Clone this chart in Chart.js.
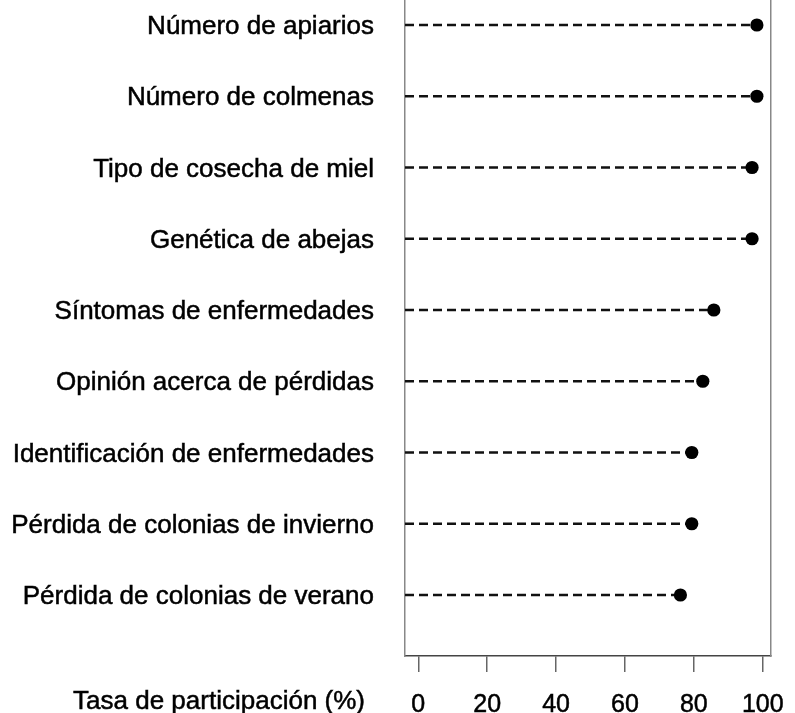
<!DOCTYPE html>
<html><head><meta charset="utf-8">
<script src="https://cdn.jsdelivr.net/npm/chart.js@4/dist/chart.umd.min.js"></script>
<style>html,body{margin:0;padding:0;background:#fff}#wrap{width:795px;height:713px;position:relative}</style>
</head><body><div id="wrap"><canvas id="c" width="795" height="713"></canvas></div>
<script>
const categories = [
  "Número de apiarios",
  "Número de colmenas",
  "Tipo de cosecha de miel",
  "Genética de abejas",
  "Síntomas de enfermedades",
  "Opinión acerca de pérdidas",
  "Identificación de enfermedades",
  "Pérdida de colonias de invierno",
  "Pérdida de colonias de verano"
];
const values = [98.3, 98.3, 96.9, 96.9, 85.8, 82.6, 79.4, 79.4, 76.1];
const xTicks = [0, 20, 40, 60, 80, 100];
const xTitle = "Tasa de participación (%)";

const X_MIN = -3.86, X_MAX = 102.4;
const Y_MIN = -0.351, Y_MAX = 8.856;
const FONT = "'Liberation Sans', Arial, Helvetica, sans-serif";

const dotData = values.map((v, i) => ({x: v, y: i}));
const lineSets = values.map((v, i) => ({
  type: 'line',
  data: [{x: X_MIN, y: i}, {x: v, y: i}],
  borderColor: '#111',
  borderWidth: 2.3,
  borderDash: [9, 5],
  pointRadius: 0,
  fill: false,
  order: 2
}));

const titlePlugin = {
  id: 'bottomTitle',
  afterDraw(chart) {
    const ctx = chart.ctx;
    const xs = chart.scales.x;
    ctx.save();
    ctx.font = "26px " + FONT;
    ctx.fillStyle = '#000';
    ctx.strokeStyle = '#000';
    ctx.lineWidth = 0.5;
    ctx.textAlign = 'right';
    ctx.textBaseline = 'alphabetic';
    const x = chart.chartArea.left - 40, y = xs.bottom - 4;
    ctx.strokeText(xTitle, x, y);
    ctx.fillText(xTitle, x, y);
    ctx.restore();
  }
};

new Chart(document.getElementById('c'), {
  type: 'scatter',
  data: {
    datasets: [
      {
        type: 'scatter',
        data: dotData,
        pointRadius: 6.6,
        pointHoverRadius: 6.6,
        backgroundColor: '#000',
        borderWidth: 0,
        order: 1
      },
      ...lineSets
    ]
  },
  options: {
    responsive: false,
    animation: false,
    devicePixelRatio: 1,
    layout: {padding: 0, autoPadding: false},
    plugins: {legend: {display: false}, tooltip: {enabled: false}, title: {display: false}},
    scales: {
      x: {
        type: 'linear',
        position: 'bottom',
        min: X_MIN, max: X_MAX,
        afterBuildTicks: s => { s.ticks = xTicks.map(v => ({value: v})); },
        afterFit: s => { s.height = 57; s.paddingLeft = 0; s.paddingRight = 0; },
        grid: {drawOnChartArea: false, drawTicks: true, tickLength: 16, color: '#666', lineWidth: 1.5},
        border: {display: true, color: '#444', width: 1.5},
        ticks: {font: {family: FONT, size: 25}, color: '#000', padding: 18, maxRotation: 0, autoSkip: false,
                textStrokeColor: '#000', textStrokeWidth: 0.5}
      },
      y: {
        type: 'linear',
        position: 'left',
        reverse: true,
        min: Y_MIN, max: Y_MAX,
        afterBuildTicks: s => { s.ticks = categories.map((_, i) => ({value: i})); },
        afterFit: s => { s.width = 405; s.paddingTop = 0; s.paddingBottom = 0; },
        grid: {display: false, drawTicks: false},
        border: {display: true, color: '#888', width: 1.5},
        ticks: {
          font: {family: FONT, size: 26}, color: '#000', padding: 31, autoSkip: false,
          labelOffset: 2,
          textStrokeColor: '#000', textStrokeWidth: 0.5,
          callback: v => categories[v]
        }
      },
      y2: {
        type: 'linear',
        position: 'right',
        display: true,
        reverse: true,
        min: Y_MIN, max: Y_MAX,
        afterFit: s => { s.width = 24; s.paddingTop = 0; s.paddingBottom = 0; },
        grid: {display: false, drawTicks: false},
        border: {display: true, color: '#888', width: 1.5},
        ticks: {display: false}
      }
    }
  },
  plugins: [titlePlugin]
});
</script>
</body></html>
